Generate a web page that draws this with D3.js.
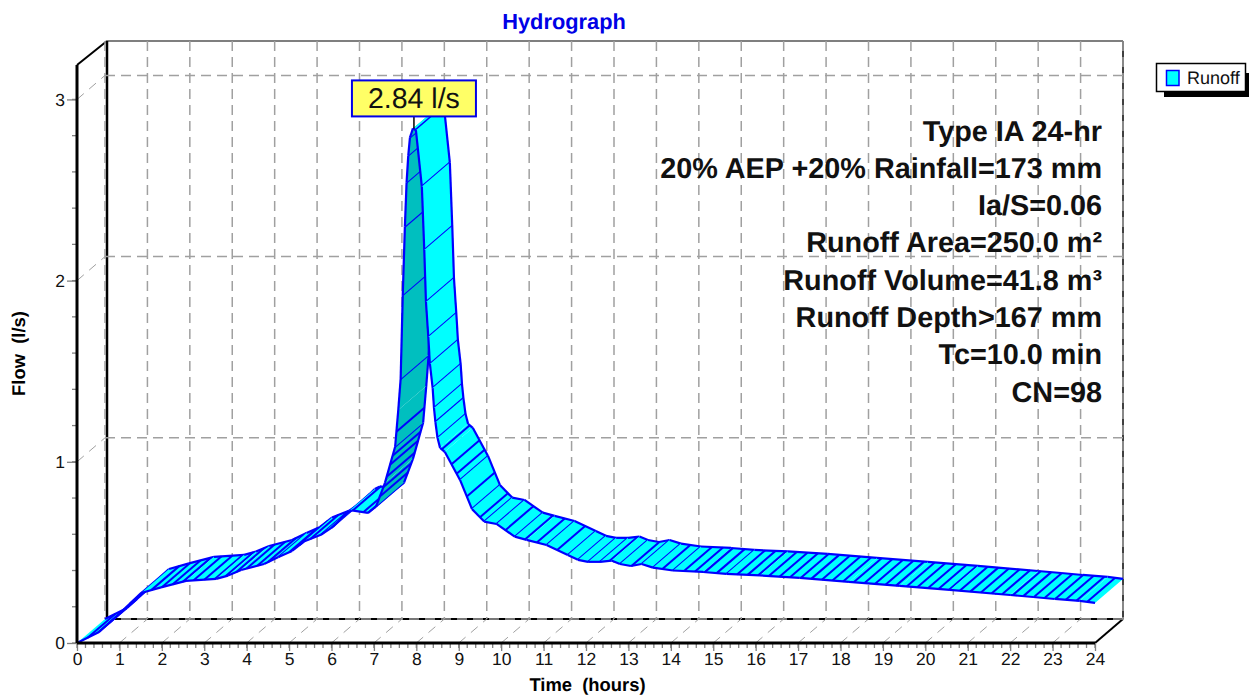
<!DOCTYPE html>
<html><head><meta charset="utf-8">
<script src="https://cdn.jsdelivr.net/npm/d3@7"></script>
<style>html,body{margin:0;padding:0;background:#fff}svg{display:block;font-family:"Liberation Sans",Arial,sans-serif;text-rendering:geometricPrecision}</style>
</head><body><svg id="c" width="1249" height="695"></svg>
<script>
const time=[0,0.52,0.99,1.51,1.98,2.57,3.28,3.56,3.87,4.41,4.75,5.07,5.35,5.75,6.03,6.36,6.48,6.86,7.05,7.26,7.5,7.574,7.63,7.68,7.73,7.77,7.81,7.85,7.92,7.99,8.13,8.187,8.227,8.282,8.32,8.385,8.416,8.45,8.5,8.56,8.67,9.03,9.31,9.6,9.89,10.32,10.6,11.07,11.57,11.81,12.05,12.33,12.6,12.8,13.06,13.31,13.58,14.05,14.76,15.31,16.1,17.04,18.2,19.4,20.58,22,22.54,23.05,23.64,24];
const flow=[0,0.061,0.16,0.276,0.307,0.343,0.354,0.372,0.403,0.436,0.475,0.508,0.56,0.597,0.641,0.718,0.732,0.718,0.753,0.884,1.083,1.286,1.457,1.92,2.298,2.541,2.69,2.79,2.84,2.83,2.519,2.169,1.882,1.689,1.54,1.407,1.297,1.219,1.131,1.077,1.055,0.9,0.74,0.67,0.657,0.587,0.569,0.541,0.486,0.459,0.448,0.448,0.455,0.436,0.425,0.436,0.416,0.4,0.392,0.381,0.373,0.359,0.337,0.315,0.293,0.265,0.254,0.243,0.232,0.221];
const hatchTimes=[0.25,0.5,0.75,1,1.25,1.5,1.75,2,2.25,2.5,2.75,3,3.25,3.5,3.75,4,4.25,4.5,4.75,5,5.25,5.5,5.75,6,6.25,6.5,6.75,6.86,7.05,7.14,7.22,7.3,7.38,7.44,7.5,7.53,7.63,7.68,7.73,7.77,7.81,7.85,7.98,8.13,8.187,8.227,8.282,8.32,8.385,8.416,8.45,8.5,8.6,8.83,8.95,9.03,9.19,9.31,9.5,9.6,9.89,10.1,10.32,10.56,10.84,11.07,11.32,11.57,11.81,12.05,12.33,12.56,12.8,13.07,13.31,13.58,13.8,14.05,14.31,14.57,14.8,15.08,15.31,15.56,15.81,16.06,16.31,16.56,16.81,17.06,17.31,17.56,17.81,18.06,18.31,18.56,18.81,19.06,19.31,19.56,19.81,20.06,20.31,20.56,20.81,21.06,21.31,21.56,21.81,22.06,22.31,22.56,22.81,23.06,23.31,23.56,23.81];
const xTicks=d3.range(0,25);
const yTicks=[0,1,2,3];
const notes=["Type IA 24-hr","20% AEP +20% Rainfall=173 mm","Ia/S=0.06","Runoff Area=250.0 m²","Runoff Volume=41.8 m³","Runoff Depth>167 mm","Tc=10.0 min","CN=98"];
const peakTime=7.92, peakFlow=2.84, peakLabel="2.84 l/s";
const seriesName="Runoff";

const svg=d3.select("#c");
const x=d3.scaleLinear().domain([0,24]).range([77,1095]);
const y=d3.scaleLinear().domain([0,3.19]).range([643,65]);
const dx=28,dy=-24;
const fx=t=>x(t), fy=v=>y(v);
const blue="#0000ff",cyan="#00ffff",dark="#00bfbf",grey="#a0a0a0";
const flowAt=d3.scaleLinear().domain(time).range(flow);
const line=(g,x1,y1,x2,y2,col,w,dash)=>g.append("line").attr("x1",x1).attr("y1",y1).attr("x2",x2).attr("y2",y2)
  .attr("stroke",col).attr("stroke-width",w).attr("stroke-dasharray",dash||null);

// walls and floor
const wall=svg.append("g");
const yTop=y.range()[1], xL=x(0), xR=x(24), y0=y(0);
line(wall,xL+30,yTop+dy,xL+30,y0+dy,"#000",2.5);
line(wall,xL+30,yTop+dy,xR+dx,yTop+dy,"#000",1.2);
line(wall,xR+dx,yTop+dy,xR+dx,y0+dy,"#000",1.5);
line(wall,xL+30,y0+dy,xR+dx,y0+dy,"#000",2);
line(wall,xL,yTop,xL+30,yTop+dy,"#000",2);
line(wall,xR,y0,xR+dx,y0+dy,"#000",2);
xTicks.forEach(t=>{
  line(wall,x(t)+dx,yTop+dy,x(t)+dx,y0+dy,grey,1.5,"10,6");
  if(t>0&&t<24) line(wall,x(t),y0,x(t)+dx,y0+dy,grey,1,"9,7");
});
yTicks.forEach(v=>{
  line(wall,x(0)+dx,y(v)+dy,xR+dx,y(v)+dy,grey,1.5,"10,6");
  if(v>0) line(wall,x(0),y(v),x(0)+dx,y(v)+dy,grey,1,"9,7");
});

// ribbon, painted in time order
const rib=svg.append("g");
const hatchLine=(t)=>{const v=flowAt(t);line(rib,fx(t),fy(v),fx(t)+dx,fy(v)+dy,blue,2);};
let hi=0;
for(let i=0;i<time.length-1;i++){
  const a=[fx(time[i]),fy(flow[i])],b=[fx(time[i+1]),fy(flow[i+1])];
  const steep=(a[1]-b[1])*dx>(b[0]-a[0])*(-dy);
  rib.append("polygon").attr("points",[a,b,[b[0]+dx,b[1]+dy],[a[0]+dx,a[1]+dy]].map(p=>p.join(",")).join(" "))
    .attr("fill",steep?dark:cyan).attr("stroke","none");
  line(rib,a[0],a[1],b[0],b[1],blue,2.2);
  line(rib,a[0]+dx,a[1]+dy,b[0]+dx,b[1]+dy,blue,2.2);
  while(hi<hatchTimes.length&&hatchTimes[hi]<=time[i+1]){hatchLine(hatchTimes[hi]);hi++;}
}

// front axes
const minorX=d3.range(0,24.01,0.2), minorY=d3.range(0,3.01,0.2);
const ax=svg.append("g");
minorX.forEach(t=>line(ax,x(t),y0,x(t),y0+5,"#808080",1.3));
minorY.forEach(v=>line(ax,xL-5,y(v),xL,y(v),"#808080",1.3));
const gx=ax.append("g").attr("transform",`translate(0,${y0})`).call(d3.axisBottom(x).tickValues(xTicks).tickSize(8).tickPadding(2).tickFormat(d3.format("d")));
const gy=ax.append("g").attr("transform",`translate(${xL},0)`).call(d3.axisLeft(y).tickValues(yTicks).tickSize(10).tickPadding(2).tickFormat(d3.format("d")));
[gx,gy].forEach(g=>{g.select(".domain").remove();g.selectAll("line").attr("stroke","#808080").attr("stroke-width",1.3);
  g.selectAll("text").attr("font-size",17.5).attr("font-family","Liberation Sans").attr("fill","#111");});
line(ax,xL,yTop,xL,y0,"#000",3);
line(ax,xL,y0,xR,y0,"#000",3);

// titles
svg.append("text").attr("x",564).attr("y",29).attr("text-anchor","middle").attr("font-size",21.8).attr("font-weight","bold").attr("fill","#0000e6").text("Hydrograph");
svg.append("text").attr("x",587.5).attr("y",691).attr("text-anchor","middle").attr("font-size",18.4).attr("font-weight","bold").style("white-space","pre").text("Time  (hours)");
svg.append("text").attr("transform","translate(25,353.5) rotate(-90)").attr("text-anchor","middle").attr("font-size",18.4).attr("font-weight","bold").style("white-space","pre").text("Flow  (l/s)");

// notes
notes.forEach((n,i)=>svg.append("text").attr("x",1102).attr("y",140.5+i*37.3).attr("text-anchor","end").attr("font-size",28.8).attr("font-weight","bold").attr("fill","#111").text(n));

// peak label
const lx=x(peakTime), ly=y(peakFlow);
line(svg,lx+1,ly-14,lx+1,ly,"#000",1.5);
const lw=124,lh=36;
svg.append("rect").attr("x",lx-61).attr("y",ly-48).attr("width",lw).attr("height",lh).attr("fill","#ffff66").attr("stroke","#0000e6").attr("stroke-width",2);
svg.append("text").attr("x",lx+1).attr("y",ly-20).attr("text-anchor","middle").attr("font-size",28.5).attr("fill","#111").text(peakLabel);

// legend
const L=svg.append("g");
L.append("rect").attr("x",1164).attr("y",73).attr("width",85).attr("height",24).attr("fill","#000");
L.append("rect").attr("x",1156.5).attr("y",63.5).attr("width",89).attr("height",28).attr("fill","#fff").attr("stroke","#000").attr("stroke-width",1.5);
L.append("rect").attr("x",1166.5).attr("y",70.5).attr("width",12.5).attr("height",15).attr("fill",cyan).attr("stroke",blue).attr("stroke-width",1.5);
L.append("text").attr("x",1187).attr("y",84).attr("font-size",18).attr("fill","#111").text(seriesName);
</script></body></html>
